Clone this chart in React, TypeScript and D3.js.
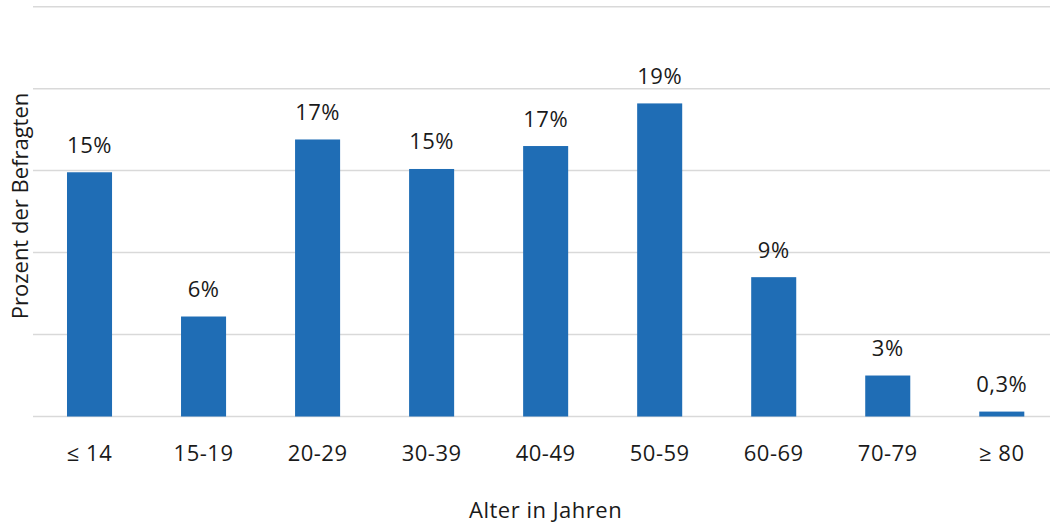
import React from "react";
import * as d3 from "d3";

const categories = ["≤ 14", "15-19", "20-29", "30-39", "40-49", "50-59", "60-69", "70-79", "≥ 80"];
const values = [14.9, 6.1, 16.9, 15.1, 16.5, 19.1, 8.5, 2.5, 0.3];
const valueLabels = ["15%", "6%", "17%", "15%", "17%", "19%", "9%", "3%", "0,3%"];
const yTicks = [0, 5, 10, 15, 20, 25];

const W = 1050;
const H = 523;
const FONT = "'Open Sans', 'Liberation Sans', sans-serif";
const FS = 22;
const LS = 0.5;

export default function App() {
  const x = d3
    .scaleBand<string>()
    .domain(categories)
    .range([32.5, 1058.8])
    .paddingInner(0.605)
    .paddingOuter(0.3025);
  const y = d3.scaleLinear().domain([0, 25]).range([416.5, 6.7]);

  return (
    <svg
      width={W}
      height={H}
      style={{ position: "absolute", left: 0, top: 0, background: "#fff" }}
      fontFamily={FONT}
    >
      <rect x={0} y={0} width={W} height={H} fill="#ffffff" />
      {yTicks.map((t) => (
        <line key={t} x1={33} x2={W} y1={y(t)} y2={y(t)} stroke="#d9d9d9" strokeWidth={1.5} />
      ))}
      {categories.map((c, i) => (
        <g key={c}>
          <rect
            x={x(c)!}
            y={y(values[i])}
            width={x.bandwidth()}
            height={y(0) - y(values[i])}
            fill="#1f6db5"
          />
          <text
            x={x(c)! + x.bandwidth() / 2}
            y={y(values[i]) - 19.5}
            textAnchor="middle"
            fontSize={FS}
            letterSpacing={LS}
            fill="#1a1a1a"
          >
            {valueLabels[i]}
          </text>
          <text
            x={x(c)! + x.bandwidth() / 2}
            y={461}
            textAnchor="middle"
            fontSize={FS}
            letterSpacing={LS}
            fill="#1a1a1a"
          >
            {c}
          </text>
        </g>
      ))}
      <text x={545.6} y={518} textAnchor="middle" fontSize={FS} letterSpacing={LS} fill="#1a1a1a">
        Alter in Jahren
      </text>
      <text
        transform="translate(28, 206) rotate(-90)"
        textAnchor="middle"
        fontSize={FS}
        fill="#1a1a1a"
      >
        Prozent der Befragten
      </text>
    </svg>
  );
}
